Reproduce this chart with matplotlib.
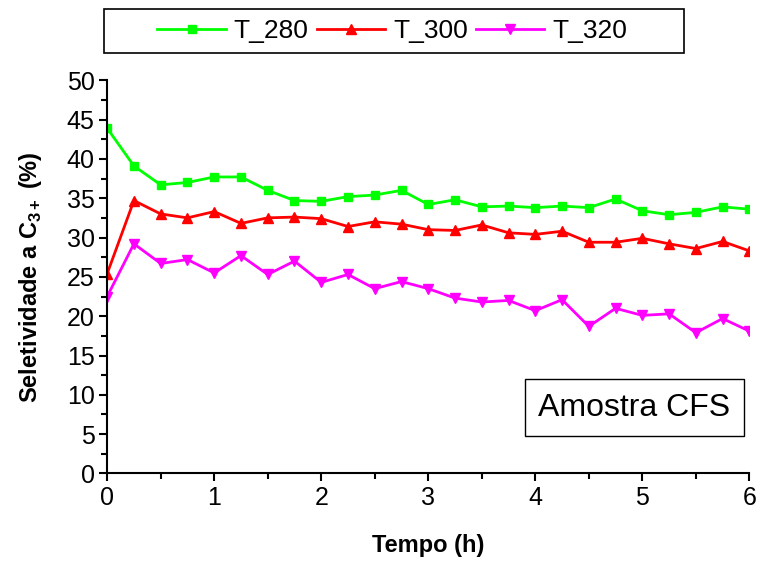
import numpy as np
import matplotlib
matplotlib.use("Agg")
import matplotlib.pyplot as plt
from matplotlib.ticker import MultipleLocator
from matplotlib.patches import Rectangle

plt.rcParams['font.family'] = ['Liberation Sans', 'DejaVu Sans']
plt.rcParams['mathtext.fontset'] = 'custom'
plt.rcParams['mathtext.bf'] = 'Liberation Sans:bold'
plt.rcParams['mathtext.rm'] = 'Liberation Sans'

# tempo (h), um ponto a cada 15 min
tempo = [0, 0.25, 0.5, 0.75, 1.0, 1.25, 1.5, 1.75, 2.0, 2.25, 2.5, 2.75, 3.0,
         3.25, 3.5, 3.75, 4.0, 4.25, 4.5, 4.75, 5.0, 5.25, 5.5, 5.75, 6.0]

t_280 = [43.9, 39.1, 36.7, 37.0, 37.7, 37.7, 36.0, 34.7, 34.6, 35.2, 35.4, 36.0, 34.2,
         34.8, 33.9, 34.0, 33.8, 34.0, 33.8, 34.9, 33.4, 32.9, 33.2, 33.9, 33.6]
t_300 = [25.4, 34.7, 33.0, 32.5, 33.3, 31.8, 32.5, 32.6, 32.4, 31.4, 32.0, 31.7, 31.0,
         30.9, 31.6, 30.6, 30.4, 30.8, 29.4, 29.4, 29.9, 29.2, 28.6, 29.5, 28.3]
t_320 = [22.5, 29.2, 26.7, 27.2, 25.5, 27.7, 25.3, 27.0, 24.3, 25.3, 23.5, 24.4, 23.5,
         22.3, 21.8, 22.0, 20.7, 22.1, 18.7, 21.0, 20.1, 20.3, 17.9, 19.7, 18.1]

fig = plt.figure(figsize=(7.6, 5.61), dpi=100)
ax = fig.add_axes([0.141, 0.156, 0.845, 0.701])

ax.plot(tempo, t_280, '-s', color='#00ff00', lw=2, ms=6, label='T_280')
ax.plot(tempo, t_300, '-^', color='#ff0000', lw=2, ms=7.5, label='T_300')
ax.plot(tempo, t_320, '-v', color='#ff00ff', lw=2, ms=7.5, label='T_320')

ax.set_xlim(0, 6)
ax.set_ylim(0, 50)
ax.xaxis.set_major_locator(MultipleLocator(1))
ax.xaxis.set_minor_locator(MultipleLocator(0.5))
ax.yaxis.set_major_locator(MultipleLocator(5))
ax.yaxis.set_minor_locator(MultipleLocator(2.5))

for s in ['top', 'right']:
    ax.spines[s].set_visible(False)
for s in ['left', 'bottom']:
    ax.spines[s].set_linewidth(1.5)
ax.tick_params(which='major', direction='out', length=6, width=1.5, labelsize=18, pad=3)
ax.tick_params(which='minor', direction='out', length=4, width=1.5)

ax.set_xlabel('Tempo (h)', fontsize=17, fontweight='bold', labelpad=17)
ax.set_ylabel(r'Seletividade a C$_{\mathbf{3+}}$ (%)', fontsize=17, fontweight='bold', labelpad=16)

ax.text(0.821, 0.167, 'Amostra CFS', transform=ax.transAxes, fontsize=23,
        ha='center', va='center',
        bbox=dict(boxstyle='square,pad=0.42', facecolor='white', edgecolor='black', lw=1))

# legenda sem moldura + moldura larga como no original
fig.legend(loc='center', bbox_to_anchor=(0.516, 0.945), ncol=3, fontsize=19,
           frameon=False, handlelength=2.6,
           columnspacing=0.3, handletextpad=0.3, borderpad=0.3, borderaxespad=0)
fig.patches.append(Rectangle((104 / 760, 1 - 53 / 561), 580 / 760, 44 / 561,
                             transform=fig.transFigure, fill=False,
                             edgecolor='black', lw=1.2))

fig.savefig('out.png', dpi=100)
